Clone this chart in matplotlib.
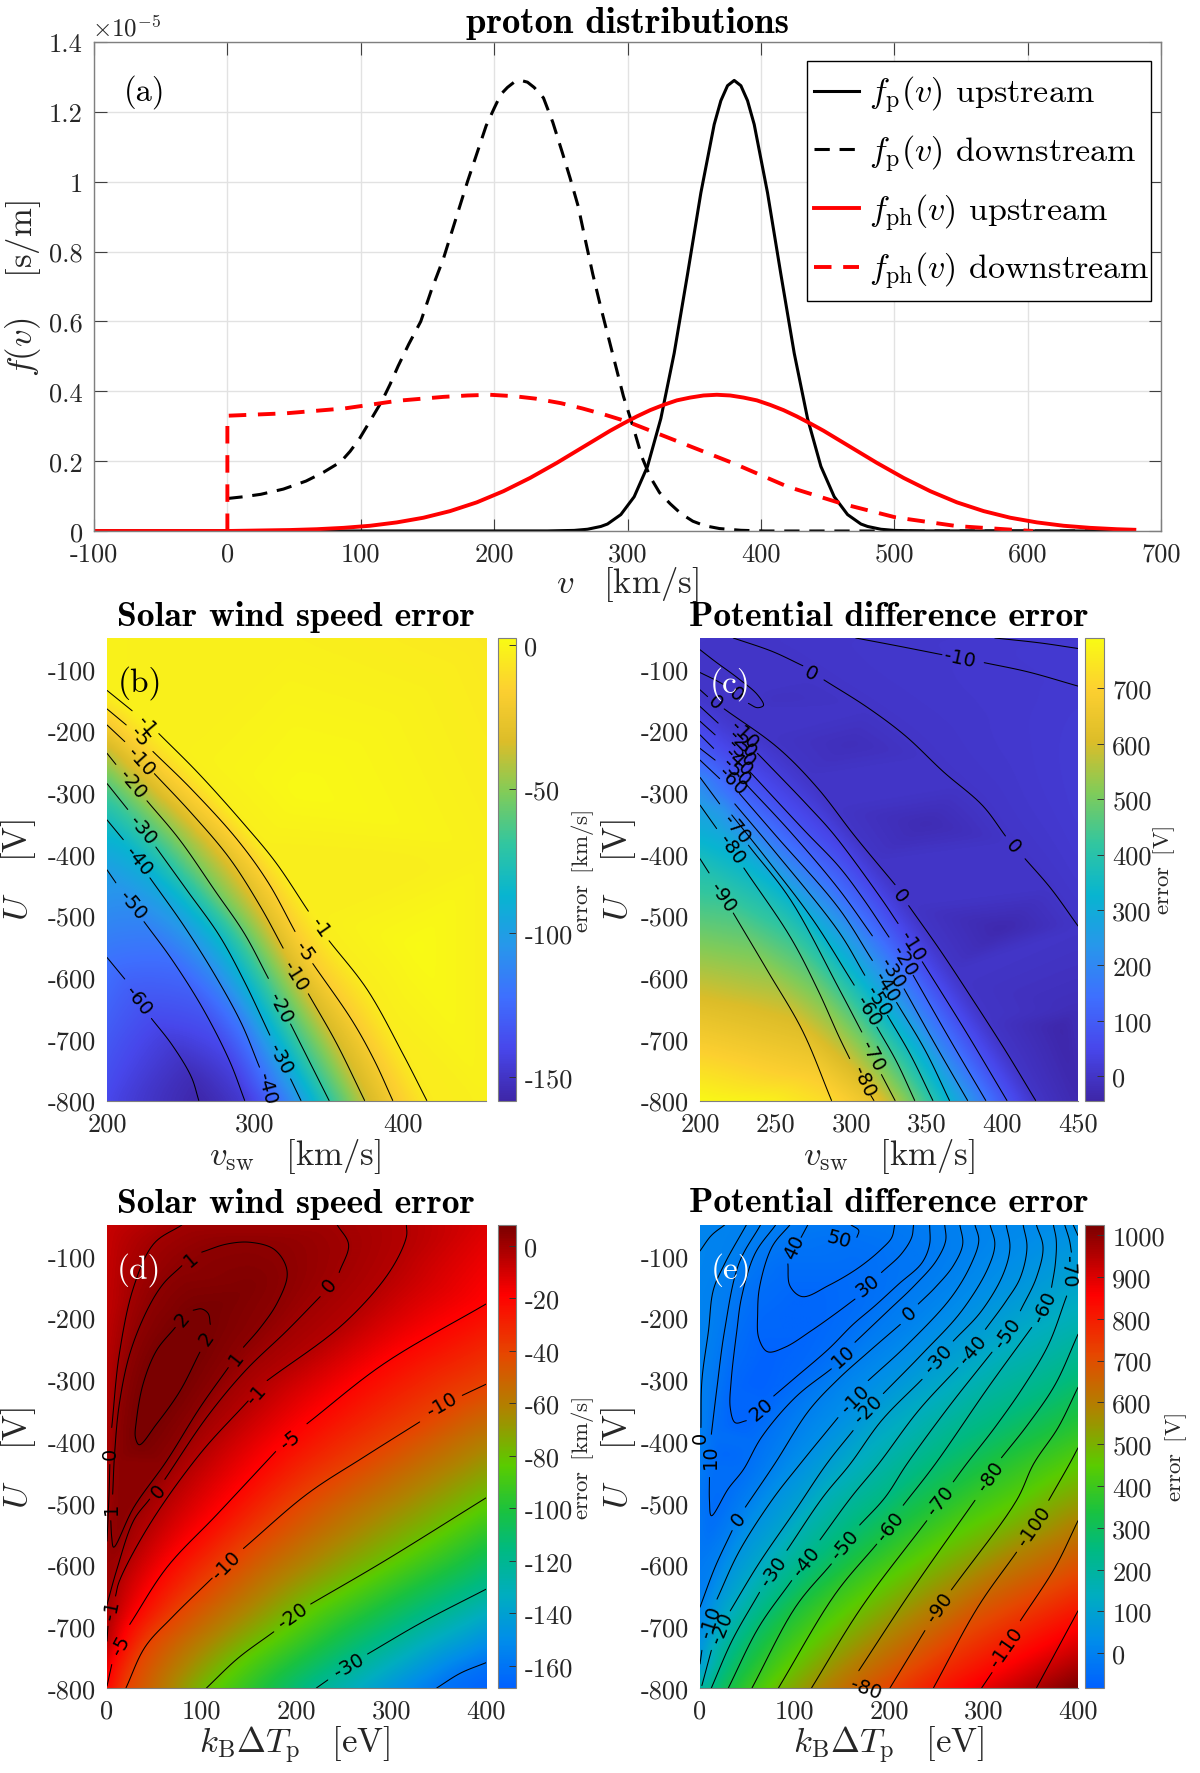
import numpy as np
import matplotlib
matplotlib.use("Agg")
import matplotlib.pyplot as plt
import matplotlib.tri as mtri
from matplotlib.colors import LinearSegmentedColormap
from matplotlib.patches import Rectangle

plt.rcParams['font.family'] = ['cmr10', 'DejaVu Serif']
plt.rcParams['mathtext.fontset'] = 'cm'
plt.rcParams['axes.unicode_minus'] = False
plt.rcParams['axes.formatter.use_mathtext'] = True

W, H = 1200, 1774

# ---------------------------------------------------------------- panel (a) data
V_P_UP = [-100, 240, 260, 270, 280, 285, 295, 305, 315, 325, 335, 345, 355, 365, 370, 375, 380, 385, 390, 395, 405,
          415, 425, 435, 445, 455, 465, 475, 480, 490, 500, 520, 680]
F_P_UP = [0, 0.0002, 0.0017, 0.005, 0.013, 0.02, 0.047, 0.098, 0.185, 0.322, 0.509, 0.735, 0.968, 1.164, 1.232, 1.275,
          1.29, 1.275, 1.232, 1.164, 0.968, 0.735, 0.509, 0.322, 0.185, 0.098, 0.047, 0.02, 0.013, 0.005, 0.0017,
          0.0002, 0]
V_P_DOWN = [0, 12, 25, 42, 59, 72, 85, 92, 99, 107, 116, 122, 128, 136, 145, 153, 162, 171, 180, 187, 194, 200, 205,
            210, 215, 220, 225, 230, 237, 244, 251, 257, 263, 268, 274, 280, 286, 292, 297, 302, 306, 311, 317, 324,
            332, 340, 349, 358, 369, 385, 403, 480, 680]
F_P_DOWN = [0.093, 0.098, 0.105, 0.12, 0.143, 0.168, 0.198, 0.228, 0.264, 0.315, 0.373, 0.42, 0.472, 0.535, 0.60,
            0.69, 0.78, 0.89, 1.0, 1.08, 1.16, 1.21, 1.25, 1.27, 1.285, 1.29, 1.285, 1.27, 1.24, 1.17, 1.085, 1.01,
            0.93, 0.84, 0.735, 0.64, 0.55, 0.46, 0.385, 0.325, 0.275, 0.21, 0.155, 0.11, 0.078, 0.05, 0.028, 0.015,
            0.007, 0.002, 0.0, 0.0, 0.0]
V_PH_UP = [-100, 0, 47, 67, 87, 107, 127, 147, 167, 187, 207, 227, 247, 267, 287, 297, 307, 317, 327, 337, 347, 357,
           367, 377, 387, 397, 407, 417, 427, 437, 447, 467, 487, 507, 527, 547, 567, 587, 607, 627, 647, 667, 680]
F_PH_UP = [0, 0, 0.0028, 0.0051, 0.009, 0.015, 0.0246, 0.038, 0.057, 0.082, 0.114, 0.152, 0.195, 0.241, 0.287, 0.308,
           0.328, 0.346, 0.361, 0.374, 0.382, 0.388, 0.39, 0.388, 0.382, 0.374, 0.361, 0.346, 0.328, 0.308, 0.287,
           0.241, 0.195, 0.152, 0.114, 0.082, 0.057, 0.038, 0.0246, 0.015, 0.009, 0.0051, 0.0035]
V_PH_DOWN = [0, 0, 44, 88, 128, 162, 180, 197, 215, 231, 250, 266, 283, 300, 340, 380, 420, 461, 501, 547, 587, 604]
F_PH_DOWN = [0, 0.33, 0.337, 0.351, 0.373, 0.384, 0.388, 0.39, 0.386, 0.379, 0.366, 0.351, 0.333, 0.313, 0.253, 0.193,
             0.127, 0.078, 0.039, 0.014, 0.004, 0.0]
A_XTICKS = [-100, 0, 100, 200, 300, 400, 500, 600, 700]
A_YTICKS = [0, 0.2, 0.4, 0.6, 0.8, 1, 1.2, 1.4]
A_YTICKLABELS = ['0', '0.2', '0.4', '0.6', '0.8', '1', '1.2', '1.4']

U_TICKS = [-100, -200, -300, -400, -500, -600, -700, -800]

# ---------------------------------------------------------------- panel (b) data: contours {level: segments}
CURVES_B = {
    -1: [[(200, -135), (217, -168)], [(235, -205), (262, -270), (293, -353), (314, -414), (336, -493)],
         [(350, -541), (376, -621), (400, -725), (416, -800)]],
    -5: [[(200, -165), (213, -191)], [(231, -234), (257, -295), (288, -377), (309, -447), (327, -526)],
         [(339, -578), (366, -672), (381, -737), (393, -800)]],
    -10: [[(200, -191), (212, -218)], [(232, -270), (257, -334), (283, -408), (304, -487), (319, -553)],
          [(336, -627), (355, -707), (374, -800)]],
    -20: [[(200, -237), (206, -255)], [(227, -314), (249, -377), (273, -460), (293, -530), (309, -602)],
          [(324, -676), (337, -738), (350, -800)]],
    -30: [[(200, -286), (214, -328)], [(233, -389), (254, -459), (276, -533), (293, -608), (310, -694)],
          [(324, -765), (331, -800)]],
    -40: [[(200, -345), (211, -377)], [(229, -439), (252, -517), (273, -597), (291, -676), (303, -746)]],
    -50: [[(200, -426), (206, -447)], [(225, -510), (244, -572), (265, -652), (283, -737), (293, -800)]],
    -60: [[(200, -568), (212, -603)], [(230, -667), (244, -710), (257, -762), (262, -800)]],
}
LABELS_B = [('-1', 227, -191, -50), ('-5', 222, -209, -50), ('-10', 223, -249, -48), ('-20', 217, -286, -50),
            ('-30', 224, -360, -50), ('-40', 221, -411, -50), ('-50', 217, -482, -50), ('-60', 221, -638, -52),
            ('-1', 344, -519, -55), ('-5', 333, -557, -55), ('-10', 327, -597, -58), ('-20', 317, -649, -62),
            ('-30', 317, -731, -62), ('-40', 308, -780, -75)]
ANCHORS_B = [(200, -50, -1), (456, -50, -1.2), (456, -800, -0.5), (330, -300, 0.5), (410, -550, 0.5), (456, -400, -0.5),
             (320, -50, -0.8), (200, -800, -70), (313, -800, -40), (200, -700, -66)]
B_XTICKS = [200, 300, 400]
B_CTICKS = [0, -50, -100, -150]

# ---------------------------------------------------------------- panel (c) data
CURVES_C = {
    -20: [[(395, -50), (425, -58), (450, -67)]],
    -10: [[(303, -50), (331, -63), (360, -77)], [(388, -90), (417, -105), (450, -128)],
          [(200, -161), (212, -188)], [(238, -237), (271, -321), (289, -370), (320, -473), (331, -513)],
          [(347, -575), (376, -689), (403, -800)]],
    0: [[(222, -50), (248, -72), (268, -95)],
        [(282, -118), (311, -163), (336, -209), (361, -267), (387, -322), (402, -371)],
        [(415, -408), (432, -456), (450, -517)],
        [(200, -134), (205, -145)], [(216, -165), (252, -229), (278, -294), (302, -370), (329, -450)],
        [(338, -484), (359, -557), (380, -635), (402, -719), (422, -800)],
        [(200, -69), (210, -88), (225, -115), (238, -142), (242, -159), (238, -163), (232, -156)],
        [(216, -126), (210, -118), (200, -106)]],
    -20.5: [[(200, -185), (210, -207)], [(233, -267), (269, -362), (292, -421), (308, -473), (325, -535)],
            [(341, -597), (365, -700), (389, -800)]],
    -30: [[(200, -207), (209, -229)], [(230, -286), (260, -365), (292, -458), (314, -533)],
          [(335, -619), (356, -711), (377, -800)]],
    -40: [[(200, -229), (210, -248)], [(226, -302), (250, -370), (292, -489), (314, -573)],
          [(330, -641), (349, -719), (365, -800)]],
    -50: [[(200, -248), (213, -278)], [(223, -319), (248, -392), (292, -527), (309, -597)],
          [(324, -662), (339, -725), (354, -800)]],
    -60: [[(221, -337), (245, -411), (275, -508), (302, -613)], [(317, -681), (330, -737), (342, -800)]],
    -70: [[(200, -276), (213, -319)], [(232, -386), (260, -475), (292, -619), (307, -689)],
          [(320, -758), (329, -800)]],
    -80: [[(200, -321), (211, -359)], [(229, -423), (260, -536), (278, -621), (292, -697), (299, -732)],
          [(313, -792), (315, -800)]],
    -90: [[(200, -408), (206, -431)], [(222, -496), (245, -591), (268, -688), (287, -800)]],
}
LABELS_C = [('-10', 372, -83, -12), ('0', 273, -107, -28), ('0', 407, -387, -48), ('0', 332, -467, -52),
            ('0', 224, -141, -40), ('0', 210, -153, -42),
            ('-10', 229, -206, -45), ('-20', 228, -221, -45), ('-30', 227, -235, -45), ('-40', 225, -250, -45),
            ('-50', 224, -266, -45), ('-60', 221, -281, -45), ('-70', 224, -359, -50), ('-80', 221, -392, -55),
            ('-90', 215, -469, -55), ('-10', 340, -549, -58), ('-20', 335, -573, -58), ('-30', 327, -592, -58),
            ('-40', 323, -616, -58), ('-50', 318, -638, -58), ('-60', 311, -654, -58), ('-70', 314, -727, -62),
            ('-80', 308, -769, -65)]
ANCHORS_C = [(200, -50, -5), (450, -50, -22), (450, -800, 4), (450, -650, 3), (250, -150, 6), (300, -220, 8),
             (350, -350, 8), (400, -520, 7), (440, -680, 6), (200, -500, -92), (200, -650, -96), (200, -800, -98),
             (245, -800, -96), (225, -650, -94)]
C_XTICKS = [200, 250, 300, 350, 400, 450]
C_CTICKS = [0, 100, 200, 300, 400, 500, 600, 700]

# ---------------------------------------------------------------- panel (d) data
CURVES_D = {
    2: [[(91, -188), (100, -186), (107, -194), (109, -211)],
        [(98, -256), (77, -319), (52, -373), (34, -406), (30, -394), (31, -367), (38, -308), (52, -254), (72, -216)]],
    1: [[(100, -94), (126, -81), (151, -78), (176, -89), (188, -113), (190, -135), (179, -178), (162, -216), (144, -248)],
        [(128, -281), (98, -346), (63, -432), (28, -508), (7, -572), (5, -556), (4, -529)],
        [(6, -486), (8, -421), (13, -340), (24, -259), (42, -189), (59, -146), (79, -116)]],
    0: [[(243, -50), (255, -82), (245, -127)], [(225, -166), (190, -221), (146, -286), (105, -362), (61, -462)],
        [(45, -494), (28, -529), (10, -610), (0, -665)],
        [(79, -50), (49, -81), (28, -151), (13, -259), (5, -378)], [(3, -438), (2, -492), (0, -562)]],
    -1: [[(316, -50), (316, -69), (299, -124), (251, -208), (169, -302)],
         [(149, -335), (98, -421), (45, -535), (13, -627), (9, -651)], [(1, -700), (0, -724)]],
    -5: [[(400, -178), (292, -275), (211, -372)], [(178, -417), (116, -519), (63, -605), (24, -697)],
         [(5, -762), (0, -797)]],
    -10: [[(400, -308), (375, -326)], [(330, -369), (271, -426), (211, -486), (144, -574)],
          [(111, -622), (69, -685), (40, -734), (20, -800)]],
    -20: [[(400, -492), (292, -595), (215, -664)], [(176, -709), (138, -752), (105, -800)]],
    -30: [[(400, -640), (332, -694), (275, -745)], [(233, -787), (221, -800)]],
    -40: [[(400, -759), (373, -776), (348, -800)]],
}
LABELS_D = [('2', 80, -202, 50), ('2', 105, -232, 55), ('1', 89, -105, 40), ('1', 137, -265, 52), ('0', 3, -419, 90),
            ('1', 5, -508, 90), ('0', 54, -480, 50), ('0', 235, -147, 50), ('-1', 158, -324, 48), ('-1', 5, -673, 78),
            ('-5', 193, -397, 38), ('-5', 15, -730, 62), ('-10', 126, -600, 45), ('-10', 354, -341, 30),
            ('-20', 196, -682, 35), ('-30', 255, -764, 30)]
ANCHORS_D = [(0, -50, -2), (400, -50, -3), (0, -800, -5.5), (400, -800, -42), (70, -270, 2.2), (90, -220, 2.2),
             (0, -200, -1.5), (0, -400, -0.5), (0, -600, 0.3), (150, -150, 1.6)]
DE_XTICKS = [0, 100, 200, 300, 400]
D_CTICKS = [0, -20, -40, -60, -80, -100, -120, -140, -160]

# ---------------------------------------------------------------- panel (e) data
CURVES_E = {
    50: [[(160, -50), (168, -59), (166, -70)]],
    40: [[(114, -50), (107, -70)],
         [(93, -113), (95, -148), (108, -166), (136, -148), (168, -119), (192, -89), (203, -70), (206, -50)]],
    30: [[(226, -50), (224, -70), (213, -97), (192, -127)],
         [(164, -170), (143, -194), (118, -221), (90, -248), (71, -255), (62, -232), (61, -194), (63, -151), (76, -86),
          (95, -50)]],
    20: [[(243, -50), (243, -81), (235, -111), (210, -146), (185, -181), (162, -211), (136, -251), (101, -297), (78, -327)],
         [(49, -367), (37, -370), (32, -346), (33, -302), (39, -221), (44, -167), (58, -97), (80, -50)]],
    10: [[(259, -50), (260, -75), (250, -108), (227, -148), (199, -189), (164, -240)],
         [(139, -283), (101, -329), (65, -394), (46, -446), (30, -477), (12, -521), (10, -496), (10, -459)],
         [(12, -389), (18, -313), (26, -221), (41, -113), (64, -50)]],
    0: [[(275, -50), (278, -81), (268, -116), (249, -151), (231, -178)],
        [(212, -211), (178, -256), (146, -300), (115, -351), (79, -437), (48, -507)],
        [(34, -545), (16, -604), (0, -669)],
        [(49, -50), (26, -113), (14, -156), (9, -221), (2, -302), (1, -378)]],
    -10: [[(0, -92), (12, -67), (26, -50)],
          [(291, -50), (295, -75), (287, -113), (266, -167), (220, -243), (178, -302)],
          [(146, -362), (106, -437), (76, -496), (41, -580), (18, -656)], [(2, -739), (0, -761)]],
    -20: [[(307, -50), (312, -81), (305, -119), (277, -189), (235, -259), (194, -323)],
          [(162, -383), (134, -437), (101, -512), (62, -599), (32, -675)], [(12, -739), (2, -796)]],
    -30: [[(324, -50), (328, -86), (321, -129), (298, -189), (268, -238)],
          [(235, -300), (192, -367), (159, -437), (130, -491), (92, -577)], [(63, -645), (34, -723), (12, -800)]],
    -40: [[(342, -50), (346, -86), (339, -135), (324, -173), (302, -219)],
          [(273, -281), (231, -351), (189, -437), (160, -491), (127, -560)], [(97, -626), (62, -702), (30, -800)]],
    -50: [[(356, -50), (363, -86), (356, -135), (339, -189)],
          [(309, -256), (263, -345), (219, -437), (196, -491), (169, -536)], [(139, -599), (101, -669), (55, -800)]],
    -60: [[(374, -50), (377, -75), (376, -113), (372, -151)],
          [(351, -216), (305, -313), (249, -437), (215, -504)], [(187, -567), (143, -648), (83, -800)]],
    -70: [[(386, -50), (391, -75), (393, -94)],
          [(388, -165), (369, -243), (344, -308), (312, -378), (282, -437), (268, -466)],
          [(240, -529), (171, -669), (118, -800)]],
    -80: [[(400, -227), (376, -308), (347, -373), (319, -427)], [(291, -496), (224, -642), (168, -772)],
          [(395, -50), (400, -67)]],
    -90: [[(400, -313), (379, -378), (353, -437), (335, -496), (266, -641)], [(238, -707), (201, -800)]],
    -100: [[(400, -411), (391, -437), (369, -496)], [(335, -580), (294, -669), (247, -800)]],
    -110: [[(400, -529), (376, -604), (339, -691)], [(309, -775), (298, -800)]],
    -120: [[(400, -675), (356, -800)]],
}
LABELS_E = [('50', 147, -73, -15), ('40', 100, -85, 65), ('30', 178, -148, 38), ('20', 65, -348, 40),
            ('10', 152, -262, 42), ('0', 222, -192, 42), ('-10', 164, -332, 45), ('-20', 178, -348, 45),
            ('-30', 252, -267, 48), ('-40', 289, -251, 50), ('-50', 326, -224, 55), ('-60', 365, -181, 65),
            ('-70', 390, -124, -88), ('0', 0, -394, 90), ('10', 11, -424, 90), ('0', 41, -526, 50),
            ('-30', 78, -610, 55), ('-40', 113, -594, 52), ('-50', 153, -567, 50), ('-60', 201, -537, 52),
            ('-70', 254, -496, 52), ('-80', 307, -456, 55), ('-90', 254, -669, 55), ('-100', 354, -537, 55),
            ('-110', 324, -734, 55), ('-80', 175, -800, -20), ('-10', 11, -691, 72), ('-20', 23, -702, 68)]
ANCHORS_E = [(0, -50, -20), (400, -50, -85), (0, -800, -27), (400, -800, -128), (100, -180, 38), (90, -120, 45),
             (150, -60, 52), (60, -300, 27), (25, -420, 15), (0, -500, 5), (0, -600, 3), (400, -130, -72),
             (0, -156, -3), (0, -300, -1)]
E_CTICKS = [0, 100, 200, 300, 400, 500, 600, 700, 800, 900, 1000]

# ---------------------------------------------------------------- colour maps
PARULA = [(0.2422, 0.1504, 0.6603), (0.2803, 0.2782, 0.9221), (0.2440, 0.4358, 0.9988), (0.1540, 0.5902, 0.9218),
          (0.0297, 0.7082, 0.8163), (0.1938, 0.7758, 0.6251), (0.5044, 0.7993, 0.3480), (0.8634, 0.7406, 0.1596),
          (0.9892, 0.8136, 0.1885), (0.9769, 0.9839, 0.0805)]
parula = LinearSegmentedColormap.from_list('parula', PARULA, N=256)
rainbow = LinearSegmentedColormap.from_list('blue_green_red', [
    (0.00, (0.00, 0.38, 1.00)), (0.10, (0.00, 0.55, 0.92)), (0.20, (0.00, 0.68, 0.75)), (0.30, (0.00, 0.73, 0.50)),
    (0.38, (0.10, 0.76, 0.25)), (0.48, (0.35, 0.80, 0.00)), (0.60, (0.68, 0.52, 0.00)), (0.72, (0.90, 0.28, 0.00)),
    (0.85, (1.00, 0.00, 0.00)), (1.00, (0.48, 0.00, 0.00))], N=256)

GREY = '#7f7f7f'


def axes_px(fig, x0, y0, x1, y1):
    return fig.add_axes([x0 / W, 1 - y1 / H, (x1 - x0) / W, (y1 - y0) / H])


def ftext(fig, x, y, s, **kw):
    kw.setdefault('ha', 'center')
    kw.setdefault('va', 'center')
    fig.text(x / W, 1 - y / H, s, **kw)


def smooth(seg, xspan, yspan, n=10):
    p = np.array(seg, float)
    if len(p) < 3:
        return p
    q = p / [xspan, yspan]
    dt = np.maximum(np.sqrt(np.hypot(*np.diff(q, axis=0).T)), 1e-6)
    m = np.zeros_like(p)
    m[0] = (p[1] - p[0]) / dt[0]
    m[-1] = (p[-1] - p[-2]) / dt[-1]
    for i in range(1, len(p) - 1):
        d0, d1 = dt[i - 1], dt[i]
        m[i] = ((p[i] - p[i - 1]) / d0 * d1 + (p[i + 1] - p[i]) / d1 * d0) / (d0 + d1)
    out = [p[0]]
    for i in range(len(p) - 1):
        for s in np.linspace(0, 1, n + 1)[1:]:
            h00 = 2 * s**3 - 3 * s**2 + 1
            h10 = s**3 - 2 * s**2 + s
            h01 = -2 * s**3 + 3 * s**2
            h11 = s**3 - s**2
            out.append(h00 * p[i] + h10 * dt[i] * m[i] + h01 * p[i + 1] + h11 * dt[i] * m[i + 1])
    return np.array(out)


def soften(a, r=4, passes=2):
    """Small box blur that removes triangle creases from the level surface."""
    for _ in range(passes):
        for axis in (0, 1):
            pad = [(0, 0), (0, 0)]
            pad[axis] = (r, r)
            b = np.pad(a, pad, mode='edge')
            c = np.cumsum(b, axis=axis)
            zero = np.zeros_like(np.take(c, [0], axis=axis))
            c = np.concatenate([zero, c], axis=axis)
            n = a.shape[axis]
            hi = np.take(c, np.arange(2 * r + 1, n + 2 * r + 1), axis=axis)
            lo = np.take(c, np.arange(0, n), axis=axis)
            a = (hi - lo) / (2 * r + 1)
    return a


def heat(fig, rect, crect, curves, labels, anchors, err, xlim, xticks, cmap, clim, cticks):
    """Colour shows the error in absolute units, contours the same error in per cent:
    err(level, x, y) turns the level read from the picture into its colour value."""
    ax = axes_px(fig, *rect)
    xspan, yspan = xlim[1] - xlim[0], 750.0
    field = {}
    paths = []
    for level, segs in curves.items():
        prev = None
        for seg in segs:
            path = smooth(seg, xspan, yspan)
            paths.append(path)
            for x, y in path:
                field.setdefault((round(x, 2), round(y, 2)), level)
            if prev is not None:
                gap = np.hypot((path[0][0] - prev[0]) / xspan, (path[0][1] - prev[1]) / yspan)
                if gap < 0.13:
                    for s in (0.25, 0.5, 0.75):
                        g = prev + s * (path[0] - prev)
                        field.setdefault((round(g[0], 2), round(g[1], 2)), level)
            prev = path[-1]
    for x, y, level in anchors:
        field.setdefault((float(x), float(y)), level)
    xs = np.array([k[0] for k in field])
    ys = np.array([k[1] for k in field])
    tri = mtri.Triangulation(xs, ys)
    interp = mtri.LinearTriInterpolator(tri, np.array(list(field.values()), float))
    gx, gy = np.meshgrid(np.linspace(xlim[0], xlim[1], 380), np.linspace(-800, -50, 470))
    glev = soften(np.ma.filled(interp(gx, gy), 0.0))
    mesh = ax.imshow(err(glev, gx, gy), origin='lower', extent=(xlim[0], xlim[1], -800, -50), aspect='auto',
                     cmap=cmap, vmin=clim[0], vmax=clim[1], interpolation='bilinear')
    for path in paths:
        ax.plot(path[:, 0], path[:, 1], color='k', lw=0.75, solid_capstyle='round')
    for s, x, y, rot in labels:
        ax.text(x, y, s, rotation=rot, rotation_mode='anchor', ha='center', va='center', color='k',
                family='DejaVu Sans', fontsize=14, clip_on=False, zorder=5)
    ax.set_xlim(*xlim)
    ax.set_ylim(-800, -50)
    ax.set_xticks(xticks)
    ax.set_xticklabels([str(t) for t in xticks])
    ax.set_yticks(U_TICKS)
    ax.set_yticklabels([str(t) for t in U_TICKS], va='center_baseline')
    ax.tick_params(direction='in', length=0, labelsize=19, pad=8, labelcolor='#262626')
    for side in ('top', 'right', 'left'):
        ax.spines[side].set_visible(False)
    ax.spines['bottom'].set_color(GREY)
    cax = axes_px(fig, *crect)
    cb = fig.colorbar(mesh, cax=cax)
    cb.set_ticks(cticks)
    cb.set_ticklabels([str(t) for t in cticks])
    cax.tick_params(direction='in', length=5, width=0.7, labelsize=19, pad=6, labelcolor='#262626', color='#333333')
    cb.outline.set_edgecolor(GREY)
    return ax


fig = plt.figure(figsize=(W / 100, H / 100), dpi=100)

# ---------------------------------------------------------------- (a)
ax = axes_px(fig, 94, 43, 1161, 532)
ax.plot(V_P_UP, F_P_UP, color='k', lw=2.2, label=r'$f_{\mathrm{p}}(v)$ upstream')
ax.plot(V_P_DOWN, F_P_DOWN, color='k', lw=2.2, dashes=(5, 3.2), label=r'$f_{\mathrm{p}}(v)$ downstream')
ax.plot(V_PH_UP, F_PH_UP, color='#ff0000', lw=2.8, label=r'$f_{\mathrm{ph}}(v)$ upstream')
ax.plot(V_PH_DOWN, F_PH_DOWN, color='#ff0000', lw=2.8, dashes=(4.5, 3), label=r'$f_{\mathrm{ph}}(v)$ downstream')
ax.set_xlim(-100, 700)
ax.set_ylim(0, 1.4)
ax.set_xticks(A_XTICKS)
ax.set_xticklabels([str(t) for t in A_XTICKS])
ax.set_yticks(A_YTICKS)
ax.set_yticklabels(A_YTICKLABELS, va='center_baseline')
ax.grid(True, color='#e2e2e2', lw=1.0)
ax.set_axisbelow(True)
ax.tick_params(direction='in', top=True, right=True, length=9, width=0.8, color='#404040', labelsize=19, pad=8,
               labelcolor='#262626')
for s in ax.spines.values():
    s.set_color(GREY)
    s.set_linewidth(1.0)
ax.text(-62, 1.26, '(a)', fontsize=23.5, ha='center', va='center', color='k')
ax.add_patch(Rectangle((807 / W, 1 - 302 / H), 344 / W, 240 / H, transform=fig.transFigure, facecolor='white',
                       edgecolor='k', lw=1.0, zorder=4, clip_on=False))
leg = ax.legend(loc='upper left', bbox_to_anchor=(802.5 / W, 1 - 63 / H), bbox_transform=fig.transFigure,
                borderaxespad=0, fontsize=24.5, handlelength=1.3, handletextpad=0.3, labelspacing=0.5, borderpad=0.35,
                frameon=False)
leg.set_zorder(6)
ftext(fig, 127, 28, r'$\times 10^{-5}$', fontsize=18, color='#262626')
ftext(fig, 627, 23, 'proton distributions', fontsize=26.4, family='cmb10')
ftext(fig, 23, 289, r'$f(v)\quad\;[\mathrm{s/m}]$', fontsize=25, rotation=90, color='#262626')
ftext(fig, 627, 585, r'$v\quad[\mathrm{km/s}]$', fontsize=25, color='#262626')

# ---------------------------------------------------------------- (b)
ax = heat(fig, (107, 639, 486, 1101.5), (498, 639, 516, 1101.5), CURVES_B, LABELS_B, ANCHORS_B,
          lambda lev, x, y: lev * x / 100.0, (200, 456), B_XTICKS, parula, (-158, 2.3), B_CTICKS)
ax.text(222, -122, '(b)', fontsize=24, ha='center', va='center', color='k')

# ---------------------------------------------------------------- (c)
ax = heat(fig, (700, 639, 1078, 1101.5), (1085, 639, 1104, 1101.5), CURVES_C, LABELS_C, ANCHORS_C,
          lambda lev, x, y: lev * y / 100.0, (200, 450), C_XTICKS, parula, (-44, 791), C_CTICKS)
ax.text(220, -123, '(c)', fontsize=24, ha='center', va='center', color='white', zorder=6)

# ---------------------------------------------------------------- (d)
ax = heat(fig, (107, 1226, 486, 1689), (498, 1226, 516, 1689), CURVES_D, LABELS_D, ANCHORS_D,
          lambda lev, x, y: lev * 4.0, (0, 400), DE_XTICKS, rainbow, (-168.5, 8), D_CTICKS)
ax.text(34, -122, '(d)', fontsize=24, ha='center', va='center', color='white', zorder=6)

# ---------------------------------------------------------------- (e)
ax = heat(fig, (700, 1226, 1078, 1689), (1085, 1226, 1104, 1689), CURVES_E, LABELS_E, ANCHORS_E,
          lambda lev, x, y: lev * y / 100.0, (0, 400), DE_XTICKS, rainbow, (-83, 1024), E_CTICKS)
ax.text(33, -122, '(e)', fontsize=24, ha='center', va='center', color='white', zorder=6)

# ---------------------------------------------------------------- shared texts
for x, t in ((296, 'Solar wind speed error'), (889, 'Potential difference error')):
    ftext(fig, x, 617, t, fontsize=25.7, family='cmb10')
    ftext(fig, x, 1204, t, fontsize=25.7, family='cmb10')
for x in (295, 889):
    ftext(fig, x, 1157, r'$v_{\mathrm{sw}}\quad[\mathrm{km/s}]$', fontsize=25, color='#262626')
    ftext(fig, x, 1745, r'$k_{\mathrm{B}}\Delta T_{\mathrm{p}}\quad[\mathrm{eV}]$', fontsize=25, color='#262626')
for x in (19, 619):
    for y in (870, 1458):
        ftext(fig, x, y, r'$U\quad\,[\mathrm{V}]$', fontsize=25, rotation=90, color='#262626')
for y in (871, 1458):
    ftext(fig, 583, y, r'$\mathrm{error}\;\;[\mathrm{km/s}]$', fontsize=16.5, rotation=90, color='#262626')
ftext(fig, 1164, 871, r'$\mathrm{error}\;\;[\mathrm{V}]$', fontsize=16.5, rotation=90, color='#262626')
ftext(fig, 1176, 1458, r'$\mathrm{error}\;\;[\mathrm{V}]$', fontsize=16.5, rotation=90, color='#262626')

fig.savefig('out.png', dpi=100)
